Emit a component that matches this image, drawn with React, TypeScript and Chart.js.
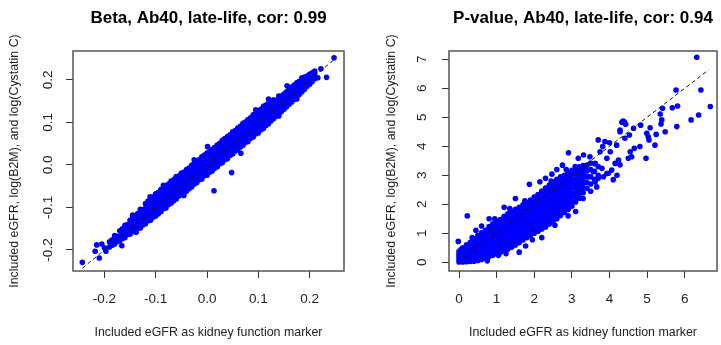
import React, { useEffect, useRef } from "react";
import { Chart, registerables } from "chart.js";

Chart.register(...registerables);

const FONT = '"Liberation Sans", Arial, Helvetica, sans-serif';

const betaTitle = "Beta, Ab40, late-life, cor: 0.99";
const pvalTitle = "P-value, Ab40, late-life, cor: 0.94";
const xAxisTitle = "Included eGFR as kidney function marker";
const yAxisTitle = "Included eGFR, log(B2M), and log(Cystatin C)";

const betaXTicks = [-0.2, -0.1, 0, 0.1, 0.2];
const betaYTicks = [-0.2, -0.1, 0, 0.1, 0.2];
const pvalXTicks = [0, 1, 2, 3, 4, 5, 6];
const pvalYTicks = [0, 1, 2, 3, 4, 5, 6, 7];

// Beta panel: dense band, read column by column (x, list of y)
const betaColumns: [number, number[]][] = [
  [-0.19, [-0.193, -0.181]],
  [-0.185, [-0.189, -0.176]],
  [-0.18, [-0.186, -0.175, -0.166]],
  [-0.175, [-0.18, -0.168]],
  [-0.17, [-0.179, -0.167, -0.155]],
  [-0.165, [-0.173, -0.161, -0.15]],
  [-0.16, [-0.171, -0.159, -0.147, -0.142]],
  [-0.155, [-0.164, -0.152, -0.14]],
  [-0.15, [-0.163, -0.151, -0.139, -0.13]],
  [-0.145, [-0.157, -0.145, -0.133, -0.125]],
  [-0.14, [-0.156, -0.144, -0.132, -0.12]],
  [-0.135, [-0.149, -0.137, -0.125, -0.114]],
  [-0.13, [-0.148, -0.136, -0.124, -0.112, -0.104]],
  [-0.125, [-0.141, -0.129, -0.117, -0.105]],
  [-0.12, [-0.138, -0.126, -0.114, -0.102, -0.091]],
  [-0.115, [-0.131, -0.119, -0.107, -0.095, -0.085]],
  [-0.11, [-0.13, -0.118, -0.106, -0.094, -0.082, -0.079]],
  [-0.105, [-0.123, -0.111, -0.099, -0.087, -0.075]],
  [-0.1, [-0.12, -0.108, -0.096, -0.084, -0.072, -0.068]],
  [-0.095, [-0.115, -0.101, -0.089, -0.077, -0.065]],
  [-0.09, [-0.11, -0.098, -0.086, -0.074, -0.062, -0.058]],
  [-0.085, [-0.103, -0.091, -0.079, -0.067, -0.055]],
  [-0.08, [-0.101, -0.088, -0.076, -0.064, -0.052, -0.049]],
  [-0.075, [-0.093, -0.081, -0.069, -0.057, -0.045]],
  [-0.07, [-0.09, -0.078, -0.066, -0.054, -0.042, -0.038]],
  [-0.065, [-0.084, -0.071, -0.059, -0.047, -0.035]],
  [-0.06, [-0.08, -0.068, -0.056, -0.044, -0.032, -0.029]],
  [-0.055, [-0.073, -0.061, -0.049, -0.037, -0.026]],
  [-0.05, [-0.07, -0.058, -0.046, -0.034, -0.022, -0.019]],
  [-0.045, [-0.065, -0.053, -0.041, -0.029, -0.017]],
  [-0.04, [-0.062, -0.05, -0.038, -0.026, -0.014, -0.011]],
  [-0.035, [-0.056, -0.043, -0.031, -0.019, -0.007]],
  [-0.03, [-0.052, -0.04, -0.028, -0.016, -0.004, -0.001]],
  [-0.025, [-0.045, -0.033, -0.021, -0.009, 0.004]],
  [-0.02, [-0.042, -0.03, -0.018, -0.006, 0.006, 0.009]],
  [-0.015, [-0.035, -0.023, -0.011, 0.001, 0.013]],
  [-0.01, [-0.033, -0.02, -0.008, 0.004, 0.016, 0.019]],
  [-0.005, [-0.025, -0.013, -0.001, 0.011, 0.023]],
  [0, [-0.024, -0.012, 0, 0.012, 0.024, 0.028]],
  [0.005, [-0.017, -0.005, 0.007, 0.019, 0.031]],
  [0.01, [-0.014, -0.002, 0.01, 0.022, 0.034, 0.037]],
  [0.015, [-0.008, 0.005, 0.017, 0.029, 0.041]],
  [0.02, [-0.004, 0.008, 0.02, 0.032, 0.044, 0.047]],
  [0.025, [0.003, 0.015, 0.027, 0.039, 0.051]],
  [0.03, [0.006, 0.018, 0.03, 0.042, 0.054, 0.058]],
  [0.035, [0.013, 0.025, 0.037, 0.049, 0.061]],
  [0.04, [0.015, 0.028, 0.04, 0.052, 0.064, 0.067]],
  [0.045, [0.023, 0.035, 0.047, 0.059, 0.071]],
  [0.05, [0.026, 0.038, 0.05, 0.062, 0.074, 0.078]],
  [0.055, [0.033, 0.045, 0.057, 0.069, 0.081]],
  [0.06, [0.036, 0.048, 0.06, 0.072, 0.084, 0.087]],
  [0.065, [0.042, 0.055, 0.067, 0.079, 0.091]],
  [0.07, [0.046, 0.058, 0.07, 0.082, 0.094, 0.098]],
  [0.075, [0.053, 0.065, 0.077, 0.089, 0.101]],
  [0.08, [0.055, 0.068, 0.08, 0.092, 0.104, 0.107]],
  [0.085, [0.063, 0.075, 0.087, 0.099, 0.111]],
  [0.09, [0.066, 0.078, 0.09, 0.102, 0.114, 0.118]],
  [0.095, [0.073, 0.085, 0.097, 0.109, 0.121]],
  [0.1, [0.075, 0.088, 0.1, 0.112, 0.124, 0.127]],
  [0.105, [0.083, 0.095, 0.107, 0.119, 0.131]],
  [0.11, [0.086, 0.098, 0.11, 0.122, 0.134, 0.138]],
  [0.115, [0.093, 0.105, 0.117, 0.129, 0.141]],
  [0.12, [0.097, 0.109, 0.121, 0.133, 0.145]],
  [0.125, [0.104, 0.116, 0.128, 0.14, 0.149]],
  [0.13, [0.109, 0.121, 0.133, 0.145, 0.153]],
  [0.135, [0.115, 0.127, 0.139, 0.151]],
  [0.14, [0.12, 0.132, 0.144, 0.156, 0.162]],
  [0.145, [0.126, 0.138, 0.15, 0.162]],
  [0.15, [0.131, 0.143, 0.155, 0.167]],
  [0.155, [0.137, 0.149, 0.161, 0.172]],
  [0.16, [0.143, 0.155, 0.167, 0.178]],
  [0.165, [0.148, 0.16, 0.172, 0.183]],
  [0.17, [0.154, 0.166, 0.178, 0.188]],
  [0.175, [0.16, 0.172, 0.184, 0.193]],
  [0.18, [0.166, 0.178, 0.19, 0.197]],
  [0.185, [0.172, 0.184, 0.196, 0.201]],
  [0.19, [0.178, 0.19, 0.202, 0.207]],
  [0.195, [0.185, 0.197, 0.209]],
  [0.2, [0.19, 0.202, 0.213]],
  [0.205, [0.196, 0.208, 0.217]],
  [0.21, [0.203, 0.215, 0.221]],
];

const betaSingles: [number, number][] = [
  [-0.243, -0.229], [-0.215, -0.188], [-0.218, -0.203], [-0.21, -0.219],
  [-0.2, -0.195], [-0.205, -0.186], [-0.197, -0.203], [-0.166, -0.19],
  [-0.111, -0.075], [0.0136, -0.0605], [0.048, -0.018], [0.066, 0.0275],
  [0.001, 0.043], [0.2476, 0.252], [0.233, 0.206], [0.222, 0.226],
  [0.216, 0.205], [0.185, 0.205], [0.156, 0.186], [-0.138, -0.158],
  [0.095, 0.13], [-0.06, -0.027], [0.03, 0.01], [0.12, 0.155],
  [-0.085, -0.048], [-0.025, 0.012], [0.075, 0.1], [0.14, 0.115],
  [-0.145, -0.118], [0.035, 0.062], [-0.045, -0.072], [0.175, 0.155],
];

const betaLine: [number, number][] = [[-0.243, -0.243], [0.25, 0.25]];

// P-value panel: dense band, column by column
const pvalColumns: [number, number[]][] = [
  [0, [0.01, 0.1, 0.19, 0.28, 0.37]],
  [0.05, [0.05, 0.15, 0.25, 0.35, 0.44]],
  [0.1, [0.01, 0.12, 0.22, 0.32, 0.42, 0.5]],
  [0.2, [0.02, 0.14, 0.26, 0.37, 0.49, 0.6]],
  [0.3, [0.03, 0.17, 0.3, 0.44, 0.57, 0.69]],
  [0.4, [0.04, 0.19, 0.35, 0.5, 0.65, 0.8]],
  [0.5, [0.06, 0.22, 0.38, 0.54, 0.7, 0.85, 0.92]],
  [0.6, [0.1, 0.26, 0.42, 0.58, 0.74, 0.9, 1.02]],
  [0.7, [0.15, 0.31, 0.47, 0.63, 0.79, 0.95, 1.1]],
  [0.8, [0.2, 0.36, 0.52, 0.68, 0.84, 1.0, 1.16, 1.23]],
  [0.9, [0.24, 0.41, 0.57, 0.73, 0.89, 1.05, 1.21, 1.33]],
  [1.0, [0.3, 0.46, 0.62, 0.78, 0.94, 1.1, 1.26, 1.41]],
  [1.1, [0.35, 0.51, 0.67, 0.83, 0.99, 1.15, 1.31, 1.47]],
  [1.2, [0.41, 0.56, 0.72, 0.88, 1.04, 1.2, 1.36, 1.52, 1.59]],
  [1.3, [0.46, 0.62, 0.78, 0.94, 1.1, 1.26, 1.42, 1.58, 1.67]],
  [1.4, [0.52, 0.68, 0.84, 1.0, 1.16, 1.32, 1.48, 1.64, 1.76]],
  [1.5, [0.6, 0.76, 0.92, 1.08, 1.24, 1.4, 1.56, 1.72, 1.83]],
  [1.6, [0.68, 0.84, 1.0, 1.16, 1.32, 1.48, 1.64, 1.8, 1.9]],
  [1.7, [0.77, 0.92, 1.08, 1.24, 1.4, 1.56, 1.72, 1.88, 1.98]],
  [1.8, [0.85, 1.0, 1.16, 1.32, 1.48, 1.64, 1.8, 1.96, 2.06]],
  [1.9, [0.92, 1.08, 1.24, 1.4, 1.56, 1.72, 1.88, 2.04, 2.15]],
  [2.0, [1.0, 1.16, 1.32, 1.48, 1.64, 1.8, 1.96, 2.12, 2.25]],
  [2.1, [1.07, 1.23, 1.39, 1.55, 1.71, 1.87, 2.03, 2.19, 2.34]],
  [2.2, [1.15, 1.3, 1.46, 1.62, 1.78, 1.94, 2.1, 2.26, 2.42, 2.46]],
  [2.3, [1.22, 1.38, 1.54, 1.7, 1.86, 2.02, 2.18, 2.34, 2.5, 2.56]],
  [2.4, [1.31, 1.46, 1.62, 1.78, 1.94, 2.1, 2.26, 2.42, 2.58, 2.66]],
  [2.5, [1.4, 1.56, 1.72, 1.88, 2.04, 2.2, 2.36, 2.52, 2.68, 2.76]],
  [2.6, [1.5, 1.66, 1.82, 1.98, 2.14, 2.3, 2.46, 2.62, 2.78, 2.86]],
  [2.7, [1.61, 1.76, 1.92, 2.08, 2.24, 2.4, 2.56, 2.72, 2.88, 2.95]],
  [2.8, [1.72, 1.88, 2.04, 2.2, 2.36, 2.52, 2.68, 2.84, 3.0]],
  [2.9, [1.82, 1.98, 2.14, 2.3, 2.46, 2.62, 2.78, 2.94, 3.09]],
  [3.0, [1.93, 2.08, 2.24, 2.4, 2.56, 2.72, 2.88, 3.04, 3.17]],
  [3.1, [2.08, 2.24, 2.4, 2.56, 2.72, 2.88, 3.04, 3.2]],
  [3.2, [2.21, 2.36, 2.52, 2.68, 2.84, 3.0, 3.16, 3.29]],
  [3.3, [2.4, 2.56, 2.72, 2.88, 3.04, 3.2, 3.34]],
  [3.4, [2.55, 2.75, 2.95, 3.15, 3.35]],
  [3.5, [2.7, 2.95, 3.2, 3.42]],
  [3.6, [2.86, 3.14, 3.4]],
  [3.7, [3.0, 3.3]],
];

const pvalSingles: [number, number][] = [
  [6.32, 7.07], [5.77, 5.94], [6.43, 5.94], [6.68, 5.37], [6.37, 5.08],
  [6.17, 4.91], [5.81, 5.39], [5.67, 5.33], [5.79, 4.68], [5.41, 5.31],
  [5.35, 5.11], [5.39, 4.91], [5.37, 4.77], [5.48, 4.5], [5.24, 4.41],
  [5.21, 4.04], [5.08, 4.64], [4.99, 4.45], [5.03, 4.33], [5.05, 4.22],
  [4.97, 3.59], [4.81, 3.99], [4.66, 3.93], [4.64, 4.62], [4.83, 4.73],
  [4.33, 4.83], [4.36, 4.87], [4.43, 4.76], [4.4, 4.84], [4.28, 4.5],
  [4.53, 4.39], [4.41, 4.28], [4.55, 3.81], [4.59, 3.64], [4.5, 3.59],
  [4.19, 4.04], [4.0, 4.12], [3.88, 4.16], [3.7, 4.22], [3.82, 3.99],
  [4.02, 3.81], [4.24, 3.53], [4.15, 3.41], [4.28, 3.36], [3.93, 3.59],
  [4.06, 3.18], [3.97, 3.07], [3.75, 3.81], [3.48, 3.64], [3.31, 3.7],
  [3.17, 3.59], [3.62, 3.41], [3.8, 3.24], [3.57, 3.12], [3.35, 3.24],
  [3.09, 3.3], [3.22, 3.07], [3.44, 2.95], [3.7, 2.9], [3.84, 2.95],
  [3.62, 2.78], [2.91, 3.78], [1.87, 2.69], [2.15, 2.78], [4.28, 4.56],
  [3.66, 2.6], [3.93, 3.06], [0.22, 1.6], [-0.02, 0.72], [1.77, 0.56],
  [2.05, 1.08], [1.05, 0.24], [2.67, 1.85], [2.47, 3.04], [4.2, 3.0],
  [4.1, 2.85], [3.5, 2.45], [3.3, 2.2], [2.9, 1.6], [3.1, 1.75],
  [2.3, 2.9], [2.6, 3.2], [2.75, 3.35], [1.5, 2.2], [1.2, 1.9],
  [0.8, 1.5], [0.6, 1.25], [1.6, 0.35], [2.2, 0.85], [0.45, 1.1],
  [0.35, 0.85], [0.95, 1.5], [1.35, 1.85], [1.75, 2.12], [2.45, 2.8],
  [1.25, 0.3], [1.95, 0.78], [2.55, 1.28], [0.75, 0.05], [2.85, 3.2],
];

const pvalLine: [number, number][] = [[0, 0], [6.64, 6.64]];

type PanelProps = {
  left: number;
  width: number;
  title: string;
  columns: [number, number[]][];
  singles: [number, number][];
  line: [number, number][];
  xMin: number;
  xMax: number;
  yMin: number;
  yMax: number;
  xTicks: number[];
  yTicks: number[];
  decimals: number;
  yAxisWidth: number;
  rightPad: number;
  yTickPad: number;
  yTitleX: number;
};

function Panel(p: PanelProps) {
  const ref = useRef<HTMLCanvasElement | null>(null);
  useEffect(() => {
    if (!ref.current) return;
    const pts: { x: number; y: number }[] = [];
    p.columns.forEach(([x, ys]) => ys.forEach((y) => pts.push({ x, y })));
    p.singles.forEach(([x, y]) => pts.push({ x, y }));
    const linePts = p.line.map(([x, y]) => ({ x, y }));
    const fmt = (v: number) => (p.decimals > 0 ? Number(v).toFixed(p.decimals) : String(Math.round(Number(v))));

    const deco = {
      id: "deco",
      afterDraw(chart: any) {
        const { ctx, chartArea: a } = chart;
        ctx.save();
        ctx.strokeStyle = "#555";
        ctx.lineWidth = 1.5;
        ctx.strokeRect(a.left, a.top, a.right - a.left, a.bottom - a.top);
        ctx.fillStyle = "#000";
        ctx.textAlign = "center";
        ctx.textBaseline = "middle";
        const cx = (a.left + a.right) / 2;
        ctx.font = `bold 17px ${FONT}`;
        ctx.fillText(p.title, cx, 18);
        ctx.fillStyle = "#222";
        ctx.font = `12.4px ${FONT}`;
        ctx.fillText(xAxisTitle, cx, 333);
        ctx.translate(p.yTitleX, (a.top + a.bottom) / 2);
        ctx.rotate(-Math.PI / 2);
        ctx.fillText(yAxisTitle, 0, 0);
        ctx.restore();
      },
    };

    const chart = new Chart(ref.current, {
      type: "scatter",
      data: {
        datasets: [
          {
            type: "line",
            data: linePts,
            borderColor: "#111",
            borderWidth: 1,
            borderDash: [4, 3],
            pointRadius: 0,
            fill: false,
            order: 0,
          } as any,
          {
            data: pts,
            backgroundColor: "#0000ff",
            borderWidth: 0,
            pointRadius: 2.8,
            pointHoverRadius: 2.8,
            order: 1,
          },
        ],
      },
      options: {
        animation: false,
        responsive: false,
        events: [],
        layout: { padding: { left: 0, right: p.rightPad, top: 51, bottom: 0 } },
        plugins: { legend: { display: false }, tooltip: { enabled: false }, title: { display: false } },
        scales: {
          x: {
            type: "linear",
            min: p.xMin,
            max: p.xMax,
            afterBuildTicks: (s: any) => {
              s.ticks = p.xTicks.map((v) => ({ value: v }));
            },
            afterFit: (s: any) => {
              s.height = 74;
            },
            border: { display: false },
            grid: { drawOnChartArea: false, drawTicks: true, tickLength: 7, tickWidth: 1, tickColor: "#333" },
            ticks: {
              font: { family: FONT, size: 13.5 },
              color: "#222",
              padding: 13,
              minRotation: 0,
              maxRotation: 0,
              callback: (v: any) => fmt(v),
            },
          },
          y: {
            type: "linear",
            min: p.yMin,
            max: p.yMax,
            afterBuildTicks: (s: any) => {
              s.ticks = p.yTicks.map((v) => ({ value: v }));
            },
            afterFit: (s: any) => {
              s.width = p.yAxisWidth;
            },
            border: { display: false },
            grid: { drawOnChartArea: false, drawTicks: true, tickLength: 7, tickWidth: 1, tickColor: "#333" },
            ticks: {
              font: { family: FONT, size: 13.5 },
              color: "#222",
              padding: p.yTickPad,
              minRotation: 90,
              maxRotation: 90,
              crossAlign: "center",
              callback: (v: any) => fmt(v),
            },
          },
        },
      },
      plugins: [deco],
    });
    return () => chart.destroy();
  }, []);
  return (
    <canvas
      ref={ref}
      width={p.width}
      height={345}
      style={{ position: "absolute", left: p.left, top: 0, width: p.width, height: 345 }}
    />
  );
}

export default function App() {
  return (
    <div style={{ position: "absolute", left: 0, top: 0, width: 721, height: 345, background: "#fff", overflow: "hidden" }}>
      <Panel
        left={0}
        width={360}
        title={betaTitle}
        columns={betaColumns}
        singles={betaSingles}
        line={betaLine}
        xMin={-0.2612}
        xMax={0.267}
        yMin={-0.2494}
        yMax={0.268}
        xTicks={betaXTicks}
        yTicks={betaYTicks}
        decimals={1}
        yAxisWidth={73}
        rightPad={16}
        yTickPad={6}
        yTitleX={15}
      />
      <Panel
        left={360}
        width={361}
        title={pvalTitle}
        columns={pvalColumns}
        singles={pvalSingles}
        line={pvalLine}
        xMin={-0.266}
        xMax={6.858}
        yMin={-0.3}
        yMax={7.286}
        xTicks={pvalXTicks}
        yTicks={pvalYTicks}
        decimals={0}
        yAxisWidth={89}
        rightPad={4}
        yTickPad={16}
        yTitleX={32}
      />
    </div>
  );
}
